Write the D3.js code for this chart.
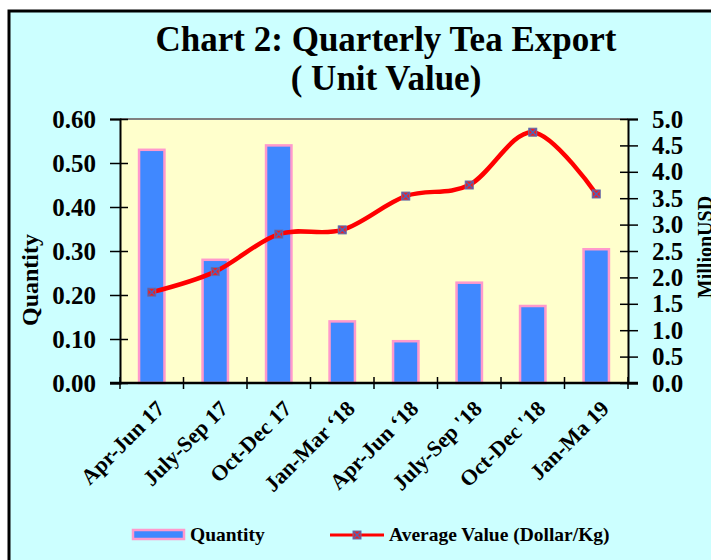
<!DOCTYPE html>
<html lang="en">
<head>
    <meta charset="UTF-8">
    <script src="https://cdnjs.cloudflare.com/ajax/libs/d3/7.8.5/d3.min.js"></script>
    <style>
        body { margin: 0; background: #fff; }
        svg text { font-family: "Liberation Serif", "Times New Roman", serif; font-weight: bold; fill: #000; }
    </style>
</head>
<body>
    <svg id="chart" width="711" height="560"></svg>
    <script>
        // chart data
        const quarters = ['Apr-Jun 17', 'July-Sep 17', 'Oct-Dec 17', 'Jan-Mar \u201818',
            'Apr-Jun \u201818', "July-Sep '18", "Oct-Dec '18", 'Jan-Ma 19'];
        const quantity = [0.53, 0.28, 0.54, 0.14, 0.095, 0.228, 0.175, 0.304];
        const avgValue = [1.72, 2.11, 2.82, 2.90, 3.54, 3.75, 4.75, 3.58];
        const qtyTicks = [0, 0.1, 0.2, 0.3, 0.4, 0.5, 0.6];
        const valTicks = [0, 0.5, 1, 1.5, 2, 2.5, 3, 3.5, 4, 4.5, 5];

        const svg = d3.select('#chart');
        const pLeft = 120, pRight = 628, pTop = 119, pBottom = 383;

        // outer frame
        svg.append('rect')
            .attr('x', 9).attr('y', 11)
            .attr('width', 720).attr('height', 570)
            .style('fill', '#ccffff')
            .style('stroke', '#000')
            .style('stroke-width', 3);

        svg.append('text')
            .attr('x', 386).attr('y', 51)
            .attr('text-anchor', 'middle')
            .style('font-size', '35px')
            .text('Chart 2: Quarterly Tea Export');
        svg.append('text')
            .attr('x', 386).attr('y', 90)
            .attr('text-anchor', 'middle')
            .style('font-size', '35px')
            .text('( Unit Value)');

        const x = d3.scaleBand().domain(quarters)
            .range([pLeft, pRight]).paddingInner(0.6).paddingOuter(0.3);
        const yQ = d3.scaleLinear().domain([0, 0.6]).range([pBottom, pTop]);
        const yV = d3.scaleLinear().domain([0, 5]).range([pBottom, pTop]);

        // plot area
        svg.append('rect')
            .attr('x', pLeft).attr('y', pTop)
            .attr('width', pRight - pLeft).attr('height', pBottom - pTop)
            .style('fill', '#ffffcc');
        svg.append('line')
            .attr('x1', pLeft).attr('x2', pRight)
            .attr('y1', pTop).attr('y2', pTop)
            .style('stroke', '#808080').style('stroke-width', 2);

        // bars
        svg.selectAll('rect.bar')
            .data(quantity)
            .enter()
            .append('rect')
            .attr('class', 'bar')
            .attr('x', (d, i) => x(quarters[i]))
            .attr('y', d => yQ(d))
            .attr('width', x.bandwidth())
            .attr('height', d => pBottom - yQ(d))
            .style('fill', '#4088ff')
            .style('stroke', '#ff99cc')
            .style('stroke-width', 2.5);

        // left axis
        const axL = svg.append('g')
            .attr('transform', `translate(${pLeft},0)`)
            .call(d3.axisLeft(yQ).tickValues(qtyTicks).tickFormat(d3.format('.2f'))
                .tickSize(10).tickPadding(14));
        axL.selectAll('.tick line').attr('x2', -10).attr('x1', 8);
        axL.selectAll('text').style('font-size', '25px');

        // right axis
        const axR = svg.append('g')
            .attr('transform', `translate(${pRight},0)`)
            .call(d3.axisRight(yV).tickValues(valTicks).tickFormat(d3.format('.1f'))
                .tickSize(10).tickPadding(14));
        axR.selectAll('.tick line').attr('x2', 10).attr('x1', -8);
        axR.selectAll('text').style('font-size', '25px');

        [axL, axR].forEach(a => {
            a.select('.domain').style('stroke', '#000').style('stroke-width', 2);
            a.selectAll('.tick line').style('stroke', '#000').style('stroke-width', 1.5);
        });

        // bottom axis with ticks between categories
        const bounds = quarters.map(q => x(q) + x.bandwidth() / 2 - x.step() / 2)
            .concat([pRight]);
        svg.append('line')
            .attr('x1', pLeft - 10).attr('x2', pRight + 10)
            .attr('y1', pBottom).attr('y2', pBottom)
            .style('stroke', '#000').style('stroke-width', 2.5);
        svg.selectAll('line.xtick')
            .data(bounds)
            .enter()
            .append('line')
            .attr('class', 'xtick')
            .attr('x1', d => d).attr('x2', d => d)
            .attr('y1', pBottom - 6).attr('y2', pBottom + 6)
            .style('stroke', '#000').style('stroke-width', 1.5);

        svg.selectAll('text.xlab')
            .data(quarters)
            .enter()
            .append('text')
            .attr('class', 'xlab')
            .attr('text-anchor', 'end')
            .attr('transform', d =>
                `translate(${x(d) + x.bandwidth() / 2 + 14},${pBottom + 27}) rotate(-45)`)
            .style('font-size', '22px')
            .text(d => d);

        // line series
        const line = d3.line()
            .x((d, i) => x(quarters[i]) + x.bandwidth() / 2)
            .y(d => yV(d))
            .curve(d3.curveCardinal.tension(0));
        svg.append('path')
            .datum(avgValue)
            .attr('d', line)
            .style('fill', 'none')
            .style('stroke', '#ff0000')
            .style('stroke-width', 4.5);

        function marker(g, cx, cy) {
            g.append('rect')
                .attr('x', cx - 4).attr('y', cy - 4)
                .attr('width', 8).attr('height', 8)
                .style('fill', '#f02020')
                .style('stroke', '#6070b0').style('stroke-width', 1);
            g.append('path')
                .attr('d', `M${cx - 3.5},${cy - 3.5}L${cx + 3.5},${cy + 3.5}M${cx + 3.5},${cy - 3.5}L${cx - 3.5},${cy + 3.5}`)
                .style('stroke', '#4f62b8').style('stroke-width', 1.5);
        }
        const mk = svg.append('g');
        avgValue.forEach((d, i) => marker(mk, x(quarters[i]) + x.bandwidth() / 2, yV(d)));

        // axis titles
        svg.append('text')
            .attr('transform', 'translate(38,280) rotate(-90)')
            .attr('text-anchor', 'middle')
            .style('font-size', '24px')
            .text('Quantity');
        svg.append('text')
            .attr('transform', 'translate(712,247) rotate(-90)')
            .attr('text-anchor', 'middle')
            .style('font-size', '20px')
            .text('MillionUSD');

        // legend
        const lg = svg.append('g');
        lg.append('rect')
            .attr('x', 133).attr('y', 530)
            .attr('width', 51).attr('height', 9)
            .style('fill', '#4088ff')
            .style('stroke', '#ff99cc').style('stroke-width', 2.5);
        lg.append('text')
            .attr('x', 190).attr('y', 541)
            .style('font-size', '19.5px')
            .text('Quantity');
        lg.append('line')
            .attr('x1', 330).attr('x2', 384)
            .attr('y1', 535).attr('y2', 535)
            .style('stroke', '#ff0000').style('stroke-width', 3);
        marker(lg, 357, 535);
        lg.append('text')
            .attr('x', 389).attr('y', 541)
            .style('font-size', '19.5px')
            .text('Average Value (Dollar/Kg)');
    </script>
</body>
</html>
